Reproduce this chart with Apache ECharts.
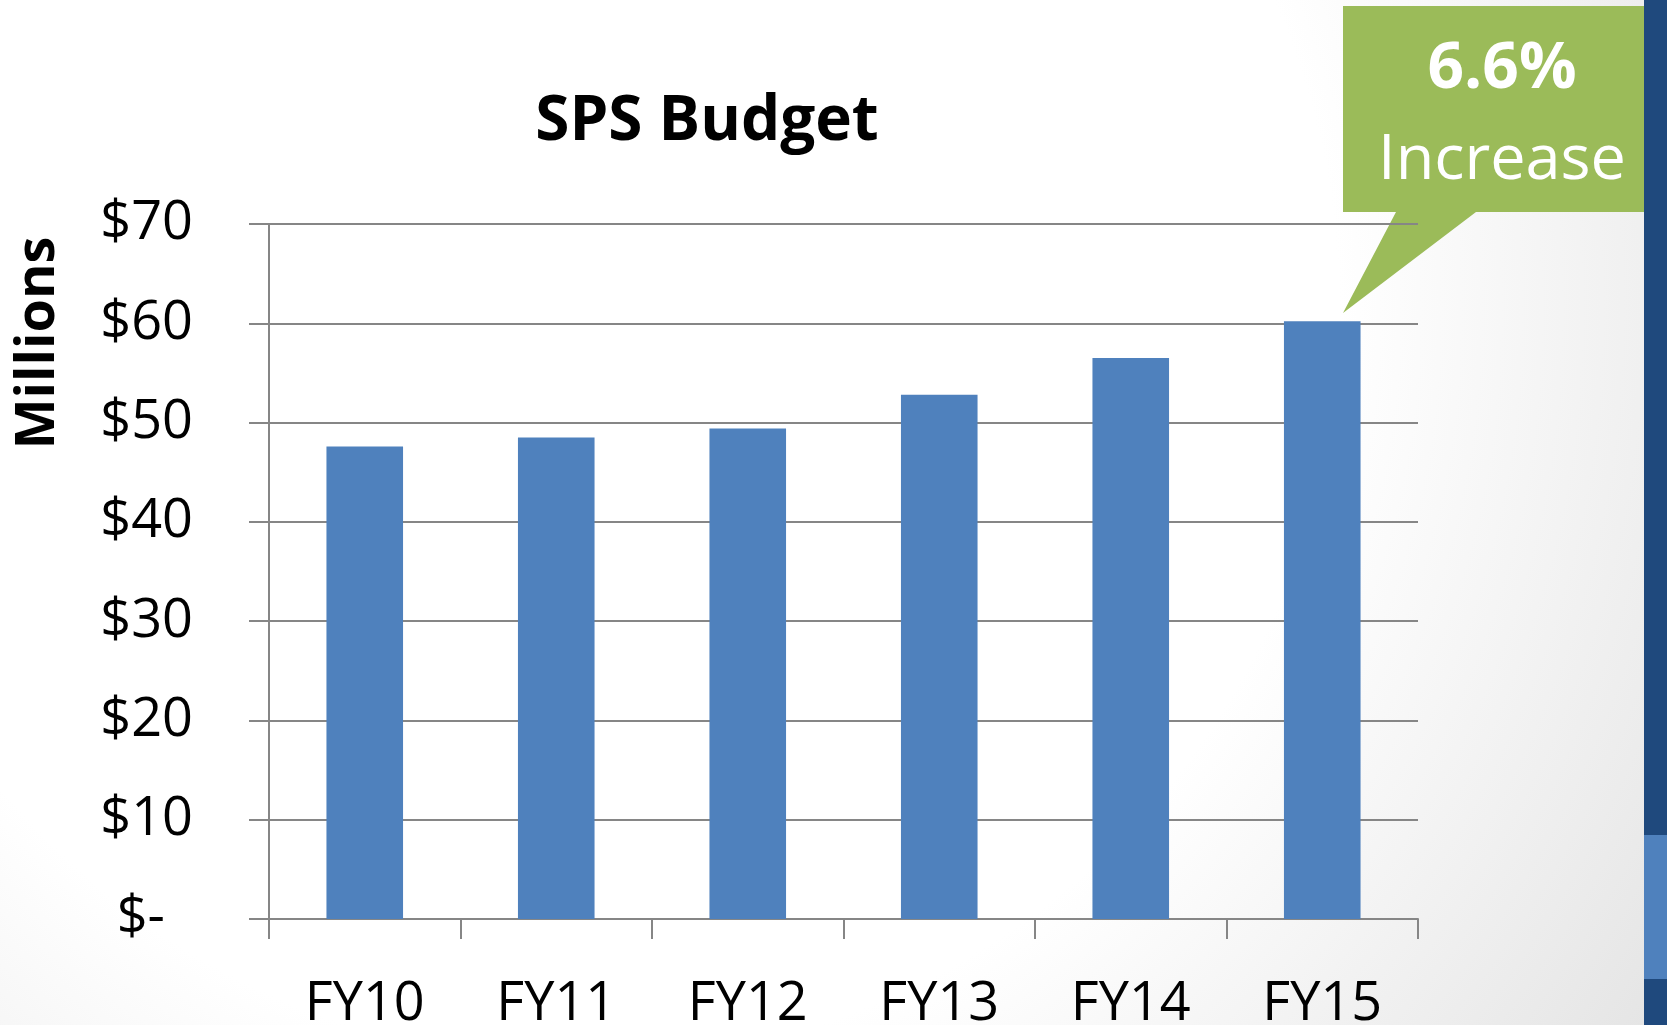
<!DOCTYPE html>
<html>
<head>
<meta charset="utf-8">
<title>SPS Budget</title>
<script src="https://cdn.jsdelivr.net/npm/echarts@6/dist/echarts.min.js"></script>
<style>
  html, body { margin: 0; padding: 0; }
  #chart { width: 1667px; height: 1025px; }
</style>
</head>
<body>
<div id="chart"></div>
<script>
// budget, millions of dollars
let years = ["FY10", "FY11", "FY12", "FY13", "FY14", "FY15"]
let budget = [47.6, 48.5, 49.4, 52.8, 56.5, 60.2]
let yTicks = [0, 10, 20, 30, 40, 50, 60, 70]

let font = "'Open Sans', 'Noto Sans', sans-serif"
let gray = "#868686"

var myChart = echarts.init(document.getElementById("chart"))

var option = {
    animation: false,
    backgroundColor: {
        type: "radial", x: 0.35, y: 0.3, r: 1.27,
        colorStops: [
            { offset: 0, color: "#ffffff" },
            { offset: 0.58, color: "#ffffff" },
            { offset: 1, color: "#e4e4e4" }
        ]
    },
    grid: {
        left: 269,
        right: 249,
        top: 224,
        bottom: 106,
        outerBoundsMode: "none"
    },
    xAxis: {
        type: "category",
        data: years,
        axisLine: { lineStyle: { color: gray, width: 2 } },
        axisTick: { show: true, length: 20, lineStyle: { color: gray, width: 2 } },
        axisLabel: { fontSize: 54, fontFamily: font, color: "#000", margin: 59 }
    },
    yAxis: {
        type: "value",
        min: yTicks[0],
        max: yTicks[yTicks.length - 1],
        interval: 10,
        axisLine: { show: true, lineStyle: { color: gray, width: 2 } },
        axisTick: { show: true, length: 20, lineStyle: { color: gray, width: 2 } },
        splitLine: { lineStyle: { color: gray, width: 2 } },
        axisLabel: {
            fontSize: 54, fontFamily: font, color: "#000", margin: 76,
            formatter: function (v) {
                return v === 0 ? "$-  " : "$" + v
            }
        }
    },
    series: [
        {
            name: "SPS Budget",
            type: "bar",
            data: budget,
            barWidth: "40%",
            itemStyle: { color: "#4f81bd" }
        }
    ],
    graphic: [
        {
            type: "text", x: 707, y: 122,
            style: {
                text: "SPS Budget", font: "bold 62px " + font, fill: "#000",
                align: "center", verticalAlign: "middle"
            }
        },
        {
            type: "text", x: 39, y: 343, rotation: Math.PI / 2,
            style: {
                text: "Millions", font: "bold 54px " + font, fill: "#000",
                align: "center", verticalAlign: "middle"
            }
        },
        // callout
        {
            type: "polygon",
            shape: {
                points: [[1343, 6], [1662, 6], [1662, 212], [1476, 212], [1343, 313], [1396, 212], [1343, 212]]
            },
            style: { fill: "#9bbb59" }
        },
        {
            type: "text", x: 1502, y: 70,
            style: {
                text: "6.6%", font: "bold 64px " + font, fill: "#fff",
                align: "center", verticalAlign: "middle"
            }
        },
        {
            type: "text", x: 1502, y: 161,
            style: {
                text: "Increase", font: "63px " + font, fill: "#fff",
                align: "center", verticalAlign: "middle"
            }
        },
        // slide edge strip
        { type: "rect", shape: { x: 1644, y: 0, width: 23, height: 1025 }, style: { fill: "#1f497d" } },
        { type: "rect", shape: { x: 1644, y: 835, width: 23, height: 144 }, style: { fill: "#4f81bd" } }
    ]
}
myChart.setOption(option)
</script>
</body>
</html>
